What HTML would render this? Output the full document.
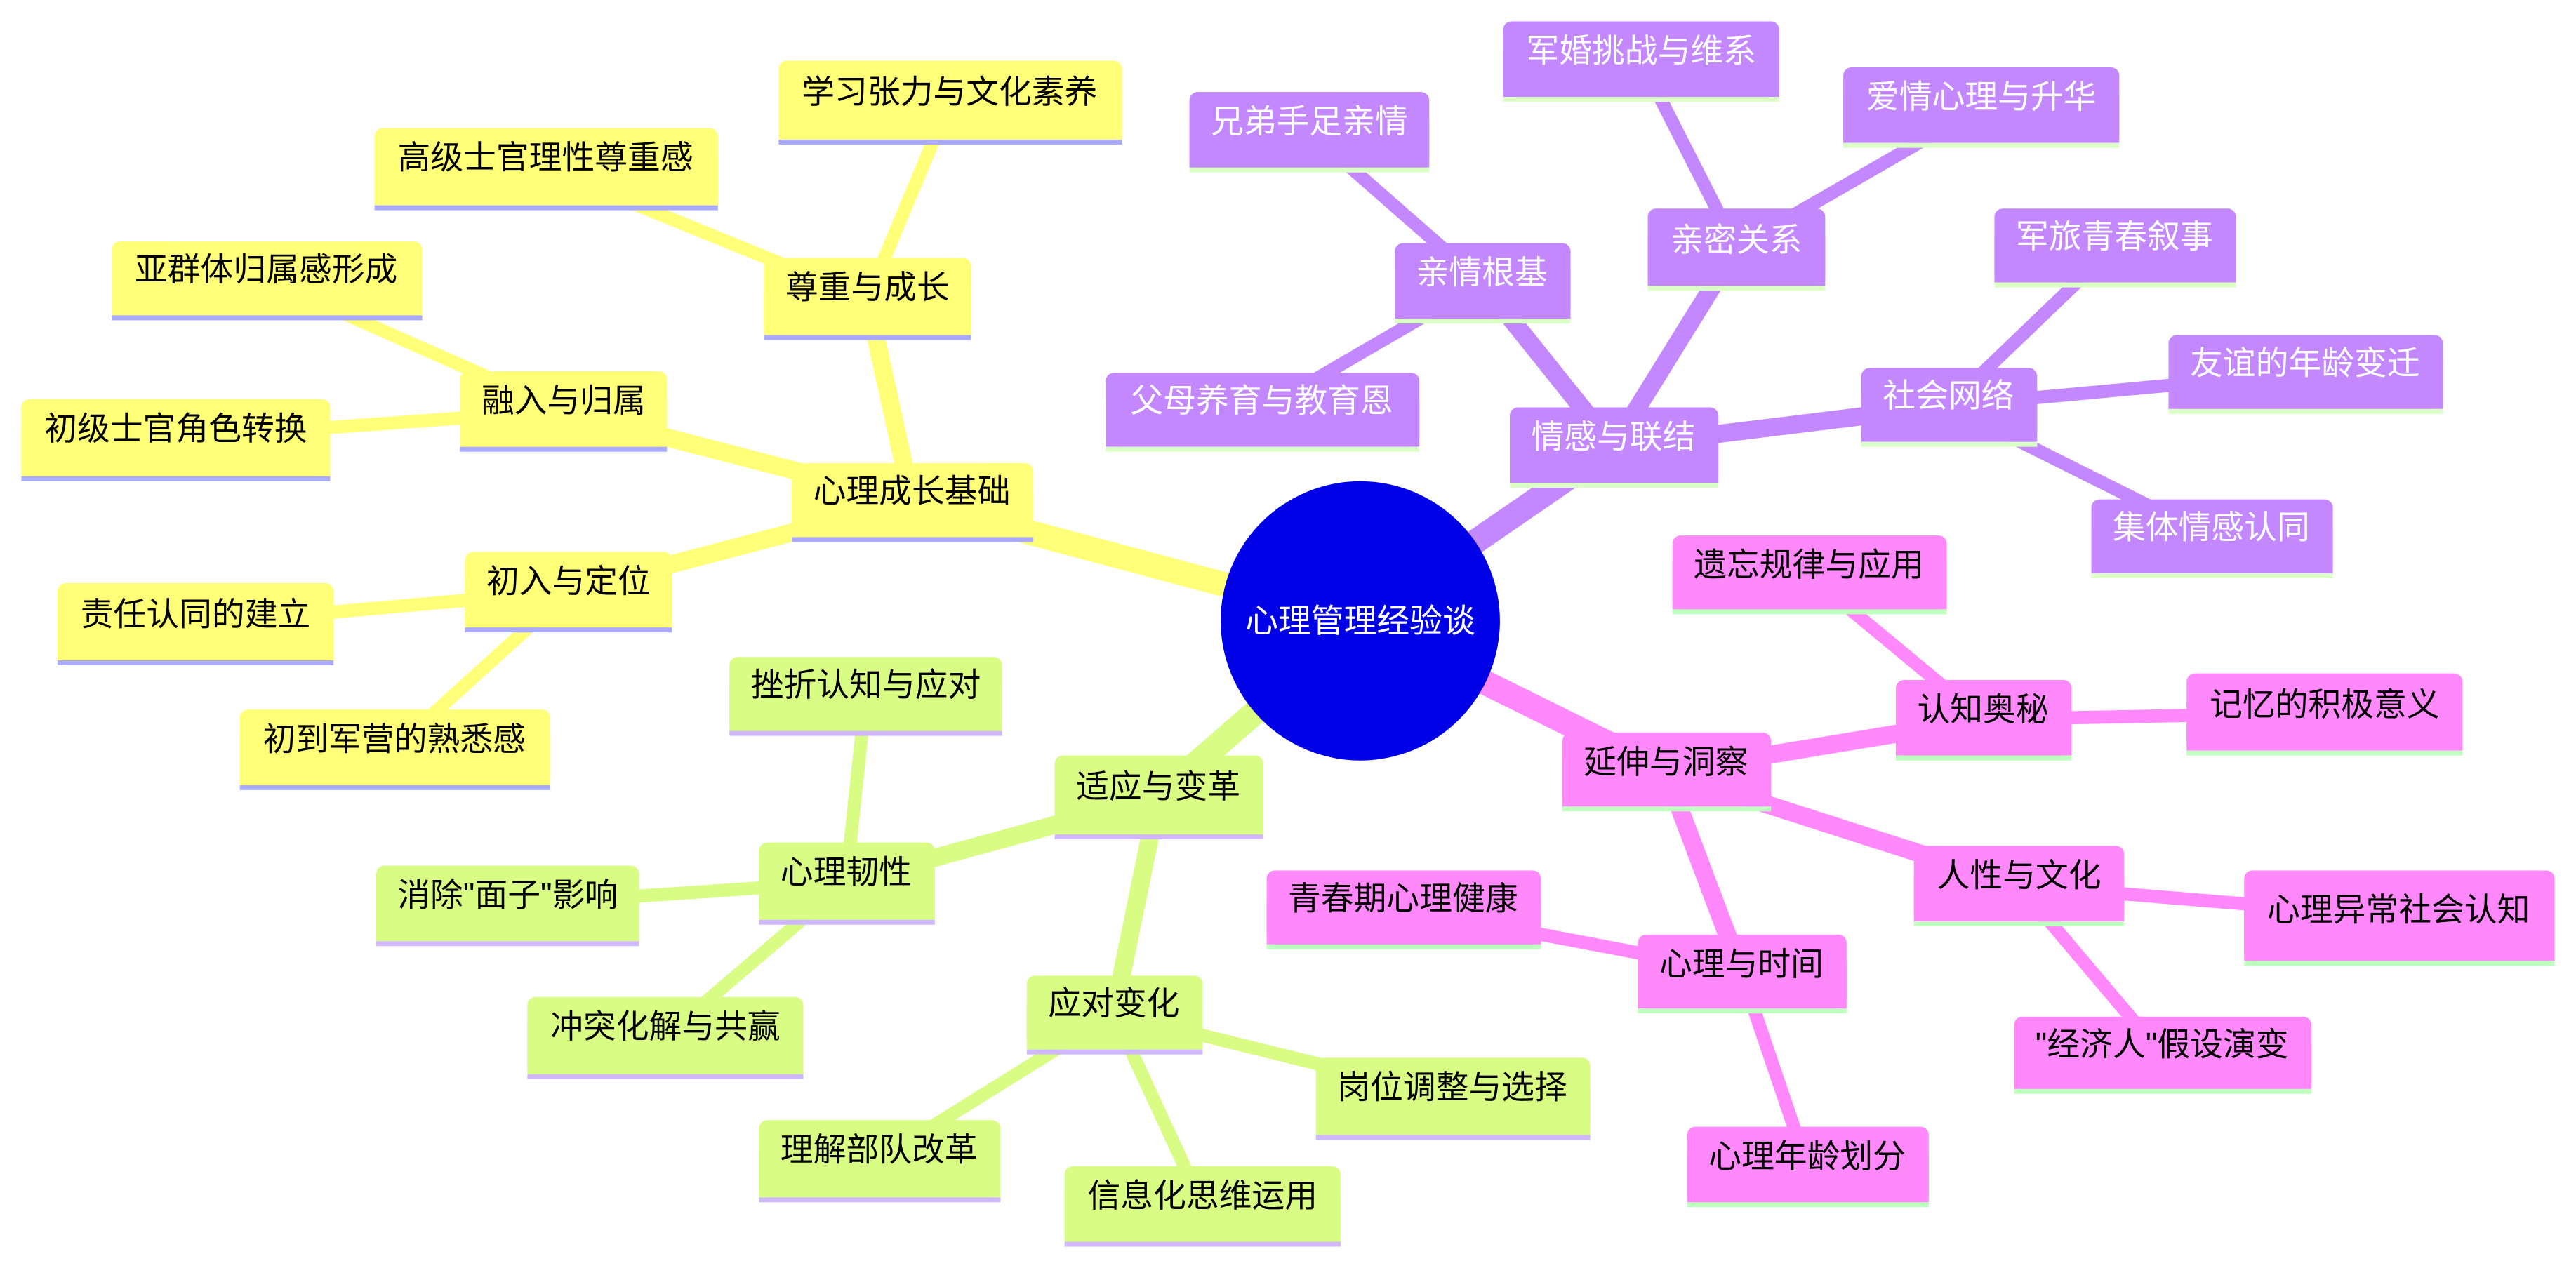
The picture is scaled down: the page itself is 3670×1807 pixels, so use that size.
<!DOCTYPE html>
<html><head><meta charset="utf-8"><style>
html,body{margin:0;padding:0;background:#fff;width:3670px;height:1807px;overflow:hidden}
svg{display:block}
text{font-family:"Liberation Sans","Noto Sans CJK SC",sans-serif;font-size:20px;text-anchor:middle;dominant-baseline:central}
</style></head><body>
<svg width="3670" height="1807" viewBox="0 0 1568 772" xmlns="http://www.w3.org/2000/svg">
<g stroke-linecap="butt" fill="none">
<g stroke="#ffff78">
<line x1="828" y1="378" x2="555" y2="305" stroke-width="15"/>
<line x1="555" y1="305" x2="528" y2="182" stroke-width="11"/>
<line x1="555" y1="305" x2="343" y2="250" stroke-width="11"/>
<line x1="555" y1="305" x2="346" y2="360" stroke-width="11"/>
<line x1="528" y1="182" x2="578" y2="62" stroke-width="8"/>
<line x1="528" y1="182" x2="332" y2="102" stroke-width="8"/>
<line x1="343" y1="250" x2="162" y2="170" stroke-width="8"/>
<line x1="343" y1="250" x2="107" y2="267" stroke-width="8"/>
<line x1="346" y1="360" x2="119" y2="380" stroke-width="8"/>
<line x1="346" y1="360" x2="240" y2="456" stroke-width="8"/>
</g>
<g stroke="#d8fc84">
<line x1="828" y1="378" x2="705" y2="485" stroke-width="15"/>
<line x1="705" y1="485" x2="515" y2="537" stroke-width="11"/>
<line x1="705" y1="485" x2="678" y2="617" stroke-width="11"/>
<line x1="515" y1="537" x2="527" y2="424" stroke-width="8"/>
<line x1="515" y1="537" x2="309" y2="551" stroke-width="8"/>
<line x1="515" y1="537" x2="405" y2="631" stroke-width="8"/>
<line x1="678" y1="617" x2="884" y2="668" stroke-width="8"/>
<line x1="678" y1="617" x2="535" y2="706" stroke-width="8"/>
<line x1="678" y1="617" x2="732" y2="734" stroke-width="8"/>
</g>
<g stroke="#c388fd">
<line x1="828" y1="378" x2="982" y2="272" stroke-width="15"/>
<line x1="982" y1="272" x2="902" y2="172" stroke-width="11"/>
<line x1="982" y1="272" x2="1057" y2="151" stroke-width="11"/>
<line x1="982" y1="272" x2="1186" y2="247" stroke-width="11"/>
<line x1="902" y1="172" x2="797" y2="80" stroke-width="8"/>
<line x1="902" y1="172" x2="768" y2="250" stroke-width="8"/>
<line x1="1057" y1="151" x2="999" y2="37" stroke-width="8"/>
<line x1="1057" y1="151" x2="1206" y2="65" stroke-width="8"/>
<line x1="1186" y1="247" x2="1287" y2="150" stroke-width="8"/>
<line x1="1186" y1="247" x2="1403" y2="227" stroke-width="8"/>
<line x1="1186" y1="247" x2="1346" y2="327" stroke-width="8"/>
</g>
<g stroke="#ff88fb">
<line x1="828" y1="378" x2="1014" y2="470" stroke-width="15"/>
<line x1="1014" y1="470" x2="1207" y2="438" stroke-width="11"/>
<line x1="1014" y1="470" x2="1229" y2="539" stroke-width="11"/>
<line x1="1014" y1="470" x2="1060" y2="592" stroke-width="11"/>
<line x1="1207" y1="438" x2="1101" y2="350" stroke-width="8"/>
<line x1="1207" y1="438" x2="1415" y2="434" stroke-width="8"/>
<line x1="1229" y1="539" x2="1460" y2="558" stroke-width="8"/>
<line x1="1229" y1="539" x2="1316" y2="642" stroke-width="8"/>
<line x1="1060" y1="592" x2="854" y2="553" stroke-width="8"/>
<line x1="1060" y1="592" x2="1100" y2="710" stroke-width="8"/>
</g>
</g>

<circle cx="828" cy="378" r="85" fill="#0000e6"/>
<text x="828" y="378" fill="#fff">心理管理经验谈</text>

<g fill="#ffff78">
<rect x="482" y="282" width="147" height="46" rx="5"/><rect x="482" y="300" width="147" height="28"/>
<rect x="465" y="157" width="126" height="48" rx="5"/><rect x="465" y="175" width="126" height="30"/>
<rect x="474" y="37" width="209" height="48" rx="5"/><rect x="474" y="55" width="209" height="30"/>
<rect x="228" y="78" width="209" height="47" rx="5"/><rect x="228" y="95" width="209" height="30"/>
<rect x="280" y="226" width="126" height="46" rx="5"/><rect x="280" y="243" width="126" height="29"/>
<rect x="68" y="147" width="189" height="45" rx="5"/><rect x="68" y="164" width="189" height="28"/>
<rect x="13" y="243" width="188" height="47" rx="5"/><rect x="13" y="260" width="188" height="30"/>
<rect x="283" y="336" width="126" height="46" rx="5"/><rect x="283" y="353" width="126" height="29"/>
<rect x="35" y="355" width="168" height="47" rx="5"/><rect x="35" y="372" width="168" height="30"/>
<rect x="146" y="432" width="189" height="46" rx="5"/><rect x="146" y="449" width="189" height="29"/>
</g>
<g fill="#aaaaff">
<rect x="482" y="327" width="147" height="3"/><rect x="465" y="204" width="126" height="3"/>
<rect x="474" y="85" width="209" height="3"/><rect x="228" y="125" width="209" height="3"/>
<rect x="280" y="272" width="126" height="3"/><rect x="68" y="192" width="189" height="3"/>
<rect x="13" y="290" width="188" height="3"/><rect x="283" y="382" width="126" height="3"/>
<rect x="35" y="402" width="168" height="3"/><rect x="146" y="478" width="189" height="3"/>
</g>
<g fill="#d8fc84">
<rect x="642" y="460" width="127" height="48" rx="5"/><rect x="642" y="478" width="127" height="30"/>
<rect x="462" y="513" width="107" height="47" rx="5"/><rect x="462" y="530" width="107" height="30"/>
<rect x="444" y="400" width="166" height="45" rx="5"/><rect x="444" y="417" width="166" height="28"/>
<rect x="229" y="527" width="160" height="46" rx="5"/><rect x="229" y="544" width="160" height="29"/>
<rect x="321" y="607" width="168" height="47" rx="5"/><rect x="321" y="624" width="168" height="30"/>
<rect x="625" y="594" width="107" height="45" rx="5"/><rect x="625" y="611" width="107" height="28"/>
<rect x="801" y="644" width="167" height="47" rx="5"/><rect x="801" y="661" width="167" height="30"/>
<rect x="462" y="682" width="147" height="47" rx="5"/><rect x="462" y="699" width="147" height="30"/>
<rect x="648" y="710" width="168" height="46" rx="5"/><rect x="648" y="727" width="168" height="29"/>
</g>
<g fill="#d0b8ff">
<rect x="642" y="508" width="127" height="3"/><rect x="462" y="560" width="107" height="3"/>
<rect x="444" y="445" width="166" height="3"/><rect x="229" y="573" width="160" height="3"/>
<rect x="321" y="654" width="168" height="3"/><rect x="625" y="639" width="107" height="3"/>
<rect x="801" y="691" width="167" height="3"/><rect x="462" y="729" width="147" height="3"/>
<rect x="648" y="756" width="168" height="3"/>
</g>
<g fill="#c388fd">
<rect x="919" y="248" width="127" height="46" rx="5"/><rect x="919" y="265" width="127" height="29"/>
<rect x="849" y="148" width="107" height="46" rx="5"/><rect x="849" y="165" width="107" height="29"/>
<rect x="724" y="56" width="146" height="46" rx="5"/><rect x="724" y="73" width="146" height="29"/>
<rect x="673" y="227" width="191" height="45" rx="5"/><rect x="673" y="244" width="191" height="28"/>
<rect x="1003" y="127" width="108" height="47" rx="5"/><rect x="1003" y="144" width="108" height="30"/>
<rect x="915" y="13" width="168" height="46" rx="5"/><rect x="915" y="30" width="168" height="29"/>
<rect x="1122" y="41" width="168" height="46" rx="5"/><rect x="1122" y="58" width="168" height="29"/>
<rect x="1133" y="224" width="107" height="45" rx="5"/><rect x="1133" y="241" width="107" height="28"/>
<rect x="1214" y="127" width="147" height="45" rx="5"/><rect x="1214" y="144" width="147" height="28"/>
<rect x="1320" y="204" width="167" height="45" rx="5"/><rect x="1320" y="221" width="167" height="28"/>
<rect x="1273" y="304" width="147" height="45" rx="5"/><rect x="1273" y="321" width="147" height="28"/>
</g>
<g fill="#dcffc8">
<rect x="919" y="294" width="127" height="3"/><rect x="849" y="194" width="107" height="3"/>
<rect x="724" y="102" width="146" height="3"/><rect x="673" y="272" width="191" height="3"/>
<rect x="1003" y="174" width="108" height="3"/><rect x="915" y="59" width="168" height="3"/>
<rect x="1122" y="87" width="168" height="3"/><rect x="1133" y="269" width="107" height="3"/>
<rect x="1214" y="172" width="147" height="3"/><rect x="1320" y="249" width="167" height="3"/>
<rect x="1273" y="349" width="147" height="3"/>
</g>
<g fill="#ff88fb">
<rect x="951" y="446" width="127" height="45" rx="5"/><rect x="951" y="463" width="127" height="28"/>
<rect x="1154" y="414" width="107" height="46" rx="5"/><rect x="1154" y="431" width="107" height="29"/>
<rect x="1018" y="326" width="167" height="45" rx="5"/><rect x="1018" y="343" width="167" height="28"/>
<rect x="1331" y="410" width="168" height="47" rx="5"/><rect x="1331" y="427" width="168" height="30"/>
<rect x="1165" y="515" width="128" height="46" rx="5"/><rect x="1165" y="532" width="128" height="29"/>
<rect x="1366" y="530" width="189" height="55" rx="5"/><rect x="1366" y="547" width="189" height="38"/>
<rect x="1226" y="619" width="181" height="44" rx="5"/><rect x="1226" y="636" width="181" height="27"/>
<rect x="997" y="569" width="127" height="45" rx="5"/><rect x="997" y="586" width="127" height="28"/>
<rect x="771" y="530" width="167" height="45" rx="5"/><rect x="771" y="547" width="167" height="28"/>
<rect x="1027" y="686" width="147" height="46" rx="5"/><rect x="1027" y="703" width="147" height="29"/>
</g>
<g fill="#bfffbf">
<rect x="951" y="491" width="127" height="3"/><rect x="1154" y="460" width="107" height="3"/>
<rect x="1018" y="371" width="167" height="3"/><rect x="1331" y="457" width="168" height="3"/>
<rect x="1165" y="561" width="128" height="3"/><rect x="1366" y="585" width="189" height="3"/>
<rect x="1226" y="663" width="181" height="3"/><rect x="997" y="614" width="127" height="3"/>
<rect x="771" y="575" width="167" height="3"/><rect x="1027" y="732" width="147" height="3"/>
</g>

<g fill="#000">
<text x="555" y="299">心理成长基础</text>
<text x="528" y="175">尊重与成长</text>
<text x="578" y="56">学习张力与文化素养</text>
<text x="332" y="96">高级士官理性尊重感</text>
<text x="343" y="244">融入与归属</text>
<text x="162" y="164">亚群体归属感形成</text>
<text x="107" y="261">初级士官角色转换</text>
<text x="346" y="354">初入与定位</text>
<text x="119" y="374">责任认同的建立</text>
<text x="240" y="450">初到军营的熟悉感</text>

<text x="705" y="479">适应与变革</text>
<text x="515" y="531">心理韧性</text>
<text x="527" y="417">挫折认知与应对</text>
<text x="309" y="545">消除"面子"影响</text>
<text x="405" y="625">冲突化解与共赢</text>
<text x="678" y="611">应对变化</text>
<text x="884" y="662">岗位调整与选择</text>
<text x="535" y="700">理解部队改革</text>
<text x="732" y="728">信息化思维运用</text>

<text x="1014" y="464">延伸与洞察</text>
<text x="1207" y="432">认知奥秘</text>
<text x="1101" y="344">遗忘规律与应用</text>
<text x="1415" y="429">记忆的积极意义</text>
<text x="1229" y="533">人性与文化</text>
<text x="1460" y="554">心理异常社会认知</text>
<text x="1316" y="636">"经济人"假设演变</text>
<text x="1060" y="587">心理与时间</text>
<text x="854" y="547">青春期心理健康</text>
<text x="1100" y="704">心理年龄划分</text>
</g>
<g fill="#fff">
<text x="982" y="266">情感与联结</text>
<text x="902" y="166">亲情根基</text>
<text x="797" y="74">兄弟手足亲情</text>
<text x="768" y="244">父母养育与教育恩</text>
<text x="1057" y="146">亲密关系</text>
<text x="999" y="31">军婚挑战与维系</text>
<text x="1206" y="59">爱情心理与升华</text>
<text x="1186" y="241">社会网络</text>
<text x="1287" y="144">军旅青春叙事</text>
<text x="1403" y="221">友谊的年龄变迁</text>
<text x="1346" y="321">集体情感认同</text>
</g>
</svg>
</body></html>
